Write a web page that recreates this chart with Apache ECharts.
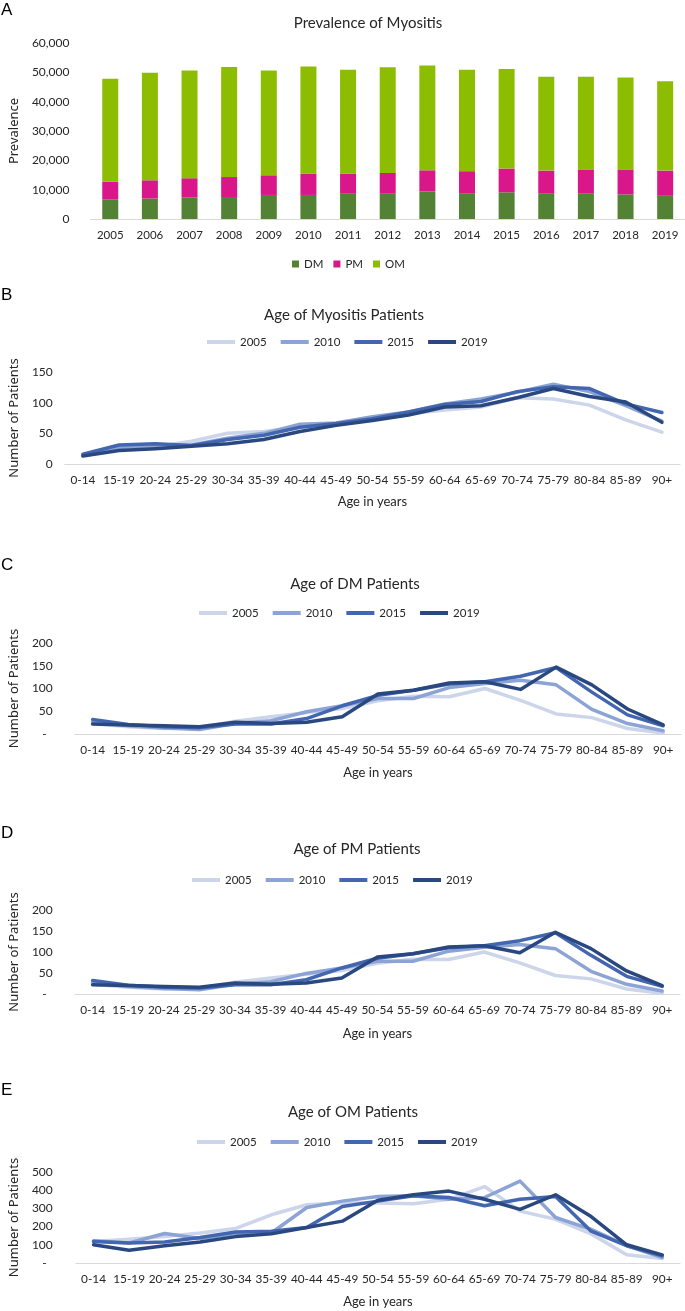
<!DOCTYPE html>
<html>
<head>
<meta charset="utf-8">
<script src="https://cdn.jsdelivr.net/npm/echarts@6/dist/echarts.min.js"></script>
<style>
  html, body { margin: 0; padding: 0; background: #ffffff; }
  #chart { width: 685px; height: 1311px; }
</style>
</head>
<body>
<div id="chart"></div>
<script>
// ---------- DATA ----------
const years = ['2005','2006','2007','2008','2009','2010','2011','2012','2013','2014','2015','2016','2017','2018','2019'];
const dmPrev = [6600, 7000, 7400, 7500, 8200, 8200, 8600, 8600, 9400, 8800, 9100, 8800, 8800, 8400, 7900];
const pmPrev = [6100, 6200, 6500, 6800, 6700, 7300, 6900, 7100, 7200, 7500, 8100, 7700, 8100, 8500, 8600];
const omPrev = [35100, 36700, 36700, 37500, 35700, 36500, 35400, 36000, 35700, 34600, 33900, 32000, 31600, 31300, 30500];

const ageGroups = ['0-14','15-19','20-24','25-29','30-34','35-39','40-44','45-49','50-54','55-59','60-64','65-69','70-74','75-79','80-84','85-89','90+'];
const lineYears = ['2005','2010','2015','2019'];

const allAge2005 = [15, 25, 28, 37, 50, 53, 60, 66, 73, 82, 88, 93, 108, 106, 96, 72, 52];
const allAge2010 = [14, 27, 30, 31, 42, 50, 65, 67, 77, 85, 98, 106, 117, 130, 118, 95, 70];
const allAge2015 = [16, 31, 33, 30, 40, 47, 60, 66, 74, 85, 97, 102, 118, 126, 123, 98, 84];
const allAge2019 = [13, 22, 25, 29, 33, 40, 53, 63, 71, 80, 93, 95, 108, 123, 110, 101, 68];

const dmAge2005 = [23, 16, 12, 14, 28, 38, 47, 56, 73, 83, 82, 100, 74, 44, 36, 12, 2];
const dmAge2010 = [27, 18, 13, 10, 23, 29, 49, 62, 78, 78, 102, 111, 118, 108, 54, 23, 7];
const dmAge2015 = [32, 21, 16, 14, 22, 22, 34, 62, 85, 96, 110, 115, 127, 146, 92, 42, 18];
const dmAge2019 = [22, 20, 18, 16, 26, 23, 26, 38, 88, 96, 112, 115, 98, 147, 108, 55, 20];

const pmAge2005 = [23, 16, 12, 14, 28, 38, 47, 56, 73, 83, 82, 100, 74, 44, 36, 12, 2];
const pmAge2010 = [27, 18, 13, 10, 23, 29, 49, 62, 78, 78, 102, 111, 118, 108, 54, 23, 7];
const pmAge2015 = [32, 21, 16, 14, 22, 22, 34, 62, 85, 96, 110, 115, 127, 146, 92, 42, 18];
const pmAge2019 = [22, 20, 18, 16, 26, 23, 26, 38, 88, 96, 112, 115, 98, 147, 108, 55, 20];

const omAge2005 = [118, 130, 145, 165, 190, 265, 320, 330, 330, 325, 350, 420, 285, 240, 160, 45, 25];
const omAge2010 = [122, 110, 162, 135, 160, 165, 305, 340, 365, 370, 350, 360, 450, 250, 185, 95, 30];
const omAge2015 = [118, 110, 115, 140, 170, 175, 195, 310, 340, 370, 360, 315, 350, 365, 175, 95, 40];
const omAge2019 = [100, 70, 95, 115, 145, 160, 195, 230, 345, 375, 395, 350, 295, 375, 255, 100, 45];

// ---------- STYLE ----------
const FONT = 'Lato';
const TXT = '#262626';
const AXIS = '#D9D9D9';
const lineColors = ['#CDD5EA', '#8CA3D5', '#4266B0', '#2A4880'];
const barColors = ['#548235', '#D9168A', '#8CBD00'];

const chart = echarts.init(document.getElementById('chart'), null, { renderer: 'canvas' });

const grids = [
  { left: 87, top: 43, width: 598, height: 176 },
  { left: 64, top: 372, width: 616, height: 92 },
  { left: 71, top: 643, width: 610, height: 91 },
  { left: 68, top: 910, width: 612, height: 84 },
  { left: 67, top: 1172, width: 613, height: 91 }
];

function lineXAxis(gi, nameGap) {
  return {
    type: 'category', gridIndex: gi, data: ageGroups, boundaryGap: true,
    axisLine: { lineStyle: { color: AXIS, width: 1 } },
    axisTick: { show: false },
    axisLabel: { interval: 0, margin: 10, color: TXT, fontFamily: FONT, fontSize: 11.8 },
    name: 'Age in years', nameLocation: 'middle', nameGap: nameGap,
    nameTextStyle: { color: TXT, fontFamily: FONT, fontSize: 13 }
  };
}
function lineYAxis(gi, max, interval, margin, nameGap, dash) {
  return {
    type: 'value', gridIndex: gi, min: 0, max: max, interval: interval,
    axisLine: { show: false }, axisTick: { show: false }, splitLine: { show: false },
    axisLabel: {
      margin: margin, color: TXT, fontFamily: FONT, fontSize: 12,
      formatter: v => (dash && v === 0) ? '-  ' : String(v)
    },
    name: 'Number of Patients', nameLocation: 'middle', nameGap: nameGap,
    nameTextStyle: { color: TXT, fontFamily: 'Noto Sans', fontSize: 13 }
  };
}
function lineSeries(gi, arrays) {
  return arrays.map((arr, i) => ({
    name: lineYears[i], type: 'line', xAxisIndex: gi, yAxisIndex: gi,
    data: arr, symbol: 'none', smooth: false, z: 2 + i,
    lineStyle: { color: lineColors[i], width: 3.5, join: 'round', cap: 'round' },
    itemStyle: { color: lineColors[i] }
  }));
}
function lineLegend(left, top) {
  return {
    data: lineYears, left: left, top: top, orient: 'horizontal', padding: 0,
    icon: 'rect', itemWidth: 28, itemHeight: 4, itemGap: 14,
    textStyle: { color: TXT, fontFamily: FONT, fontSize: 11.5 },
    selectedMode: false
  };
}
function titleAt(text, cx, top) {
  return { text: text, left: cx, top: top, textAlign: 'center',
    textStyle: { color: TXT, fontFamily: FONT, fontSize: 15, fontWeight: 'normal' } };
}
function letter(t, x, y) {
  return { type: 'text', left: x, top: y,
    style: { text: t, fill: '#000', font: '17px "Liberation Sans"' } };
}

const option = {
  animation: false,
  backgroundColor: '#ffffff',
  title: [
    titleAt('Prevalence of Myositis', 363, 11),
    titleAt('Age of Myositis Patients', 339, 303),
    titleAt('Age of DM Patients', 350, 572),
    titleAt('Age of PM Patients', 352, 837),
    titleAt('Age of OM Patients', 348, 1100)
  ],
  graphic: [
    letter('A', 1, 2),
    letter('B', 1, 287),
    letter('C', 1, 557),
    letter('D', 1, 825),
    letter('E', 1, 1082)
  ],
  legend: [
    {
      data: ['DM', 'PM', 'OM'], left: 292, top: 258, padding: 0,
      icon: 'rect', itemWidth: 7, itemHeight: 7, itemGap: 10,
      textStyle: { color: TXT, fontFamily: FONT, fontSize: 11.5 },
      selectedMode: false
    },
    lineLegend(207, 336),
    lineLegend(199, 607),
    lineLegend(192, 874),
    lineLegend(197, 1136)
  ],
  grid: grids.map(g => Object.assign({ containLabel: false }, g)),
  xAxis: [
    {
      type: 'category', gridIndex: 0, data: years,
      axisLine: { lineStyle: { color: AXIS, width: 1 } },
      axisTick: { show: false },
      axisLabel: { interval: 0, margin: 10, color: TXT, fontFamily: FONT, fontSize: 11.5 }
    },
    lineXAxis(1, 31),
    lineXAxis(2, 32),
    lineXAxis(3, 33),
    lineXAxis(4, 32)
  ],
  yAxis: [
    {
      type: 'value', gridIndex: 0, min: 0, max: 60000, interval: 10000,
      axisLine: { show: false }, axisTick: { show: false }, splitLine: { show: false },
      axisLabel: { margin: 21, color: TXT, fontFamily: FONT, fontSize: 12,
        formatter: v => v.toLocaleString('en-US') },
      name: 'Prevalence', nameLocation: 'middle', nameGap: 66,
      nameTextStyle: { color: TXT, fontFamily: 'Noto Sans', fontSize: 13 }
    },
    lineYAxis(1, 150, 50, 12, 36, false),
    lineYAxis(2, 200, 50, 22, 51, true),
    lineYAxis(3, 200, 50, 22, 50, true),
    lineYAxis(4, 500, 100, 23, 49, true)
  ],
  series: [
    { name: 'DM', type: 'bar', stack: 'prev', xAxisIndex: 0, yAxisIndex: 0, data: dmPrev,
      barWidth: 16, itemStyle: { color: barColors[0] } },
    { name: 'PM', type: 'bar', stack: 'prev', xAxisIndex: 0, yAxisIndex: 0, data: pmPrev,
      barWidth: 16, itemStyle: { color: barColors[1] } },
    { name: 'OM', type: 'bar', stack: 'prev', xAxisIndex: 0, yAxisIndex: 0, data: omPrev,
      barWidth: 16, itemStyle: { color: barColors[2] } },
    ...lineSeries(1, [allAge2005, allAge2010, allAge2015, allAge2019]),
    ...lineSeries(2, [dmAge2005, dmAge2010, dmAge2015, dmAge2019]),
    ...lineSeries(3, [pmAge2005, pmAge2010, pmAge2015, pmAge2019]),
    ...lineSeries(4, [omAge2005, omAge2010, omAge2015, omAge2019])
  ]
};
chart.setOption(option);
</script>
</body>
</html>
